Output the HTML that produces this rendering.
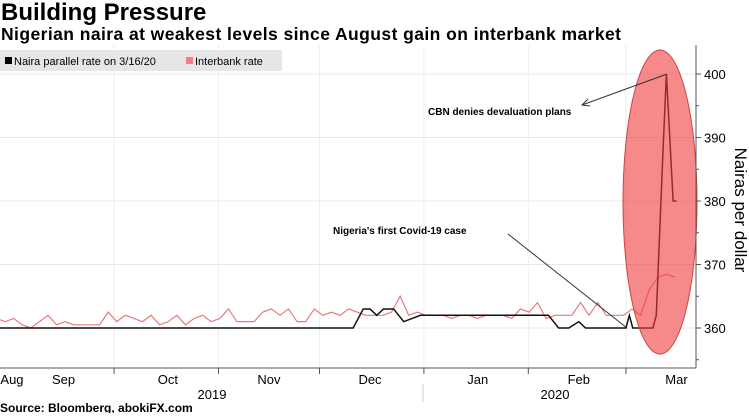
<!DOCTYPE html>
<html><head><meta charset="utf-8"><style>
body{margin:0;background:#fff;width:749px;height:413px;overflow:hidden;font-family:"Liberation Sans","DejaVu Sans",sans-serif}
</style></head><body>
<svg width="749" height="413" xmlns="http://www.w3.org/2000/svg">
<text x="1" y="20" font-size="24" font-weight="bold" fill="#000">Building Pressure</text>
<text x="1" y="40" font-size="17.5" font-weight="bold" fill="#000" textLength="620">Nigerian naira at weakest levels since August gain on interbank market</text>
<g id="grid"></g>
<g>
<rect x="0" y="50" width="282" height="21" fill="#e6e6e6"/>
<rect x="5" y="57" width="7" height="7" fill="#000"/>
<text x="14" y="65" font-size="11">Naira parallel rate on 3/16/20</text>
<rect x="186" y="57" width="7" height="7" fill="#f08080"/>
<text x="195" y="65" font-size="11">Interbank rate</text>
</g>
<g id="series"></g>
<ellipse cx="660" cy="202" rx="37" ry="152" fill="rgba(240,60,60,0.6)" stroke="#c44" stroke-width="1"/>
<line x1="696" y1="45" x2="696" y2="368" stroke="#555"/>
<line x1="0" y1="368" x2="696" y2="368" stroke="#555"/>
<g id="axes"></g>
<text x="735" y="210" font-size="17" transform="rotate(90 735 210)" text-anchor="middle">Nairas per dollar</text>
<text x="428" y="115" font-size="10" font-weight="bold">CBN denies devaluation plans</text>
<polyline points="667,74 582,105" fill="none" stroke="#333" stroke-width="1"/>
<polyline points="588,99 582,105 590,106" fill="none" stroke="#333" stroke-width="1"/>
<text x="333" y="234" font-size="10" font-weight="bold">Nigeria's first Covid-19 case</text>
<polyline points="508,234 627,328" fill="none" stroke="#333" stroke-width="1"/>
<text x="212" y="399" font-size="13" text-anchor="middle">2019</text>
<text x="555" y="399" font-size="13" text-anchor="middle">2020</text>
<line x1="423" y1="384" x2="423" y2="402" stroke="#ccc"/>
<text x="0" y="412" font-size="12" font-weight="bold">Source: Bloomberg, abokiFX.com</text>
<script>
var monthLabels=["Aug","Sep","Oct","Nov","Dec","Jan","Feb","Mar"];
var monthMidDays=[-0.3,15,46,76,106,138,168,197];
var monthStartDays=[30,61,91,122,153,182];
var yTicks=[360,370,380,390,400];
var parallelDays=[-10,101,104,106,108,110,113,116,121,125,159,162,165,168,170,182,183,184,190,191,192,193,194,196,197];
var parallelVals=[360,360,363,363,362,363,363,361,362,362,362,360,360,361,360,360,362,360,360,362,375,388,400,380,380];
var interbankStart=-10;
var interbankVals=[361,363,361.5,361,361.5,360.5,360,361,362,360.5,361,360.5,360.5,360.5,360.5,362.5,361,362,361.5,361,362,360.5,361,362,360.5,361.5,362,361,361.5,363,361,361,361,362.5,363,362,363,361,361,363,362,362.5,362,363,362.5,362,362,362,362.5,365,362,362.5,362,362,362,361.5,362,362,361.5,362,362,362,361.5,363,362.5,364,361.5,362,362,362,364,362,364,362,362,362,363,362,366,368,368.5,368];
function X(d){return 13+d*3.368;}
function Y(v){return 328-(v-360)*6.35;}
var NS="http://www.w3.org/2000/svg";
var grid=document.getElementById('grid'),axes=document.getElementById('axes'),series=document.getElementById('series');
function mk(t,a,p){var e=document.createElementNS(NS,t);for(var k in a)e.setAttribute(k,a[k]);p.appendChild(e);return e;}
yTicks.forEach(function(v){
 var l=mk('line',{x1:0,x2:696,y1:Y(v),y2:Y(v),stroke:'#e8e8e8'},grid);
 
 
 mk('line',{x1:696,x2:701,y1:Y(v),y2:Y(v),stroke:'#555'},axes);
 var t=mk('text',{x:704,y:Y(v)+5,'font-size':13},axes);t.textContent=v;
 
 
});
[355,365,375,385,395].forEach(function(v){mk('line',{x1:696,x2:699,y1:Y(v),y2:Y(v),stroke:'#555'},axes);});
monthStartDays.forEach(function(d){
 var l=mk('line',{x1:X(d),x2:X(d),y1:45,y2:368,stroke:'#eee'},grid);
 
 
 mk('line',{x1:X(d),x2:X(d),y1:368,y2:374,stroke:'#555'},axes);
});
monthLabels.forEach(function(m,i){
 var t=mk('text',{x:X(monthMidDays[i]),y:384,'font-size':13,'text-anchor':'middle'},axes);t.textContent=m;
 
 
});
var rp=interbankVals.map(function(v,i){return X(interbankStart+i*2.55)+','+Y(v);}).join(' ');
var r=mk('polyline',{points:rp,fill:'none',stroke:'#e87a7a','stroke-width':1.2},series);


var bp=parallelDays.map(function(d,i){return X(d)+','+Y(parallelVals[i]);}).join(' ');
var b=mk('polyline',{points:bp,fill:'none',stroke:'#111','stroke-width':1.5},series);


</script>
</svg>
</body></html>
